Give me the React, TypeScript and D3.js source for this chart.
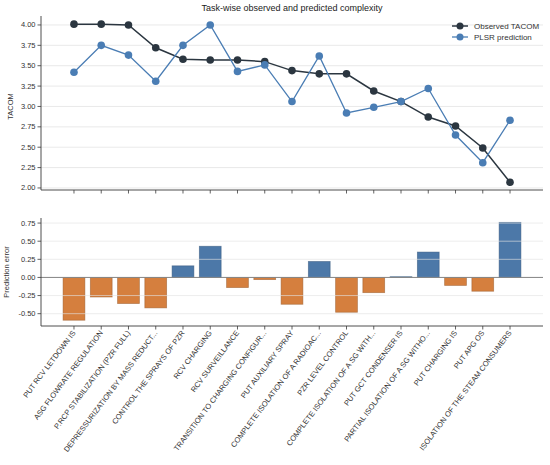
import React from 'react';
import * as d3 from 'd3';

const tasks = [
  'PUT RCV LETDOWN IS',
  'ASG FLOWRATE REGULATION',
  'P.RCP STABILIZATION (PZR FULL)',
  'DEPRESSURIZATION BY MASS REDUCT...',
  'CONTROL THE SPRAYS OF PZR',
  'RCV CHARGING',
  'RCV SURVEILLANCE',
  'TRANSITION TO CHARGING CONFIGUR...',
  'PUT AUXILIARY SPRAY',
  'COMPLETE ISOLATION OF A RADIOAC...',
  'PZR LEVEL CONTROL',
  'COMPLETE ISOLATION OF A SG WITH...',
  'PUT GCT CONDENSER IS',
  'PARTIAL ISOLATION OF A SG WITHO...',
  'PUT CHARGING IS',
  'PUT APG OS',
  'ISOLATION OF THE STEAM CONSUMERS',
];

const observed = [4.01, 4.01, 4.0, 3.72, 3.58, 3.57, 3.57, 3.55, 3.44, 3.4, 3.4, 3.19, 3.06, 2.87, 2.76, 2.49, 2.07];
const predicted = [3.42, 3.75, 3.63, 3.31, 3.75, 4.0, 3.43, 3.51, 3.06, 3.62, 2.92, 2.99, 3.06, 3.22, 2.65, 2.31, 2.83];
const errors = [-0.59, -0.27, -0.36, -0.42, 0.16, 0.43, -0.14, -0.03, -0.37, 0.22, -0.48, -0.21, 0.01, 0.35, -0.11, -0.19, 0.76];

const topTicks = [2.0, 2.25, 2.5, 2.75, 3.0, 3.25, 3.5, 3.75, 4.0];
const errTicks = [-0.5, -0.25, 0.0, 0.25, 0.5, 0.75];

const W = 550;
const H = 465;
const left = 41;
const right = 543;
const font = "'Liberation Sans', Arial, sans-serif";
const dark = '#2b3640';
const blue = '#4a7db4';
const barBlue = '#4c78a8';
const barOrange = '#d57f3e';
const axisColor = '#3a3a3a';

const App: React.FC = () => {
  const x = d3.scaleLinear().domain([-1.21, 17.21]).range([left, right]);
  const yTop = d3.scaleLinear().domain([1.975, 4.11]).range([190, 16]);
  const yErr = d3.scaleLinear().domain([-0.67, 0.82]).range([326, 218]);
  const barW = (x(1) - x(0)) * 0.8;

  const line = d3.line<number>()
    .x((d, i) => x(i))
    .y(d => yTop(d));

  return (
    <svg width={W} height={H} style={{ position: 'absolute', left: 0, top: 0, fontFamily: font }}>
      <rect width={W} height={H} fill="#fff" />
      <text x={(left + right) / 2} y={11} textAnchor="middle" fontSize={9} fill="#222">
        Task-wise observed and predicted complexity
      </text>

      {/* top panel */}
      {topTicks.map(t => (
        <g key={t}>
          <line x1={left} x2={right} y1={yTop(t)} y2={yTop(t)} stroke="#e6e6e6" strokeWidth={0.9} />
          <line x1={left - 3.5} x2={left} y1={yTop(t)} y2={yTop(t)} stroke={axisColor} strokeWidth={0.8} />
          <text x={left - 5.5} y={yTop(t)} dy="0.33em" textAnchor="end" fontSize={7.5} fill="#333">
            {t.toFixed(2)}
          </text>
        </g>
      ))}
      {tasks.map((t, i) => (
        <line key={t} x1={x(i)} x2={x(i)} y1={190} y2={193.5} stroke={axisColor} strokeWidth={0.8} />
      ))}
      <line x1={left} x2={left} y1={16} y2={190} stroke={axisColor} strokeWidth={0.9} />
      <line x1={left} x2={right} y1={190} y2={190} stroke={axisColor} strokeWidth={0.9} />
      <text transform={`translate(13,${(yTop(4) + yTop(2)) / 2}) rotate(-90)`} textAnchor="middle" fontSize={7.5} fill="#333">
        TACOM
      </text>

      <path d={line(observed) || ''} fill="none" stroke={dark} strokeWidth={1.5} />
      {observed.map((v, i) => (
        <circle key={i} cx={x(i)} cy={yTop(v)} r={3.8} fill={dark} />
      ))}
      <path d={line(predicted) || ''} fill="none" stroke={blue} strokeWidth={1.3} />
      {predicted.map((v, i) => (
        <circle key={i} cx={x(i)} cy={yTop(v)} r={3.8} fill={blue} />
      ))}

      {/* legend */}
      <g fontSize={8} fill="#333">
        <line x1={452} x2={468} y1={26} y2={26} stroke={dark} strokeWidth={1.5} />
        <circle cx={460} cy={26} r={3.5} fill={dark} />
        <text x={474} y={26} dy="0.33em">Observed TACOM</text>
        <line x1={452} x2={468} y1={37} y2={37} stroke={blue} strokeWidth={1.3} />
        <circle cx={460} cy={37} r={3.5} fill={blue} />
        <text x={474} y={37} dy="0.33em">PLSR prediction</text>
      </g>

      {/* bottom panel */}
      {errors.map((e, i) => (
        <rect
          key={i}
          x={x(i) - barW / 2}
          y={yErr(Math.max(e, 0))}
          width={barW}
          height={Math.abs(yErr(e) - yErr(0))}
          fill={e >= 0 ? barBlue : barOrange}
          stroke={e >= 0 ? '#34557a' : '#9a5a2a'}
          strokeOpacity={0.6}
          strokeWidth={0.8}
        />
      ))}
      {errTicks.map(t => (
        <g key={t}>
          <line x1={left} x2={right} y1={yErr(t)} y2={yErr(t)} stroke="#e3e3e3" strokeOpacity={0.7} strokeWidth={0.9} />
          <line x1={left - 3.5} x2={left} y1={yErr(t)} y2={yErr(t)} stroke={axisColor} strokeWidth={0.8} />
          <text x={left - 5.5} y={yErr(t)} dy="0.33em" textAnchor="end" fontSize={7.5} fill="#333">
            {t.toFixed(2)}
          </text>
        </g>
      ))}
      <line x1={left} x2={right} y1={yErr(0)} y2={yErr(0)} stroke="#7a7a7a" strokeWidth={0.9} />
      <line x1={left} x2={left} y1={218} y2={326} stroke={axisColor} strokeWidth={0.9} />
      <line x1={left} x2={right} y1={326} y2={326} stroke={axisColor} strokeWidth={0.9} />
      <text transform={`translate(9,${(218 + 326) / 2}) rotate(-90)`} textAnchor="middle" fontSize={7.5} fill="#333">
        Prediction error
      </text>
      {tasks.map((t, i) => (
        <g key={t}>
          <line x1={x(i)} x2={x(i)} y1={326} y2={329.5} stroke={axisColor} strokeWidth={0.8} />
          <text
            transform={`translate(${x(i) + 2},${333}) rotate(-53)`}
            textAnchor="end"
            fontSize={7.5}
            fill="#333"
          >
            {t}
          </text>
        </g>
      ))}
    </svg>
  );
};

export default App;
